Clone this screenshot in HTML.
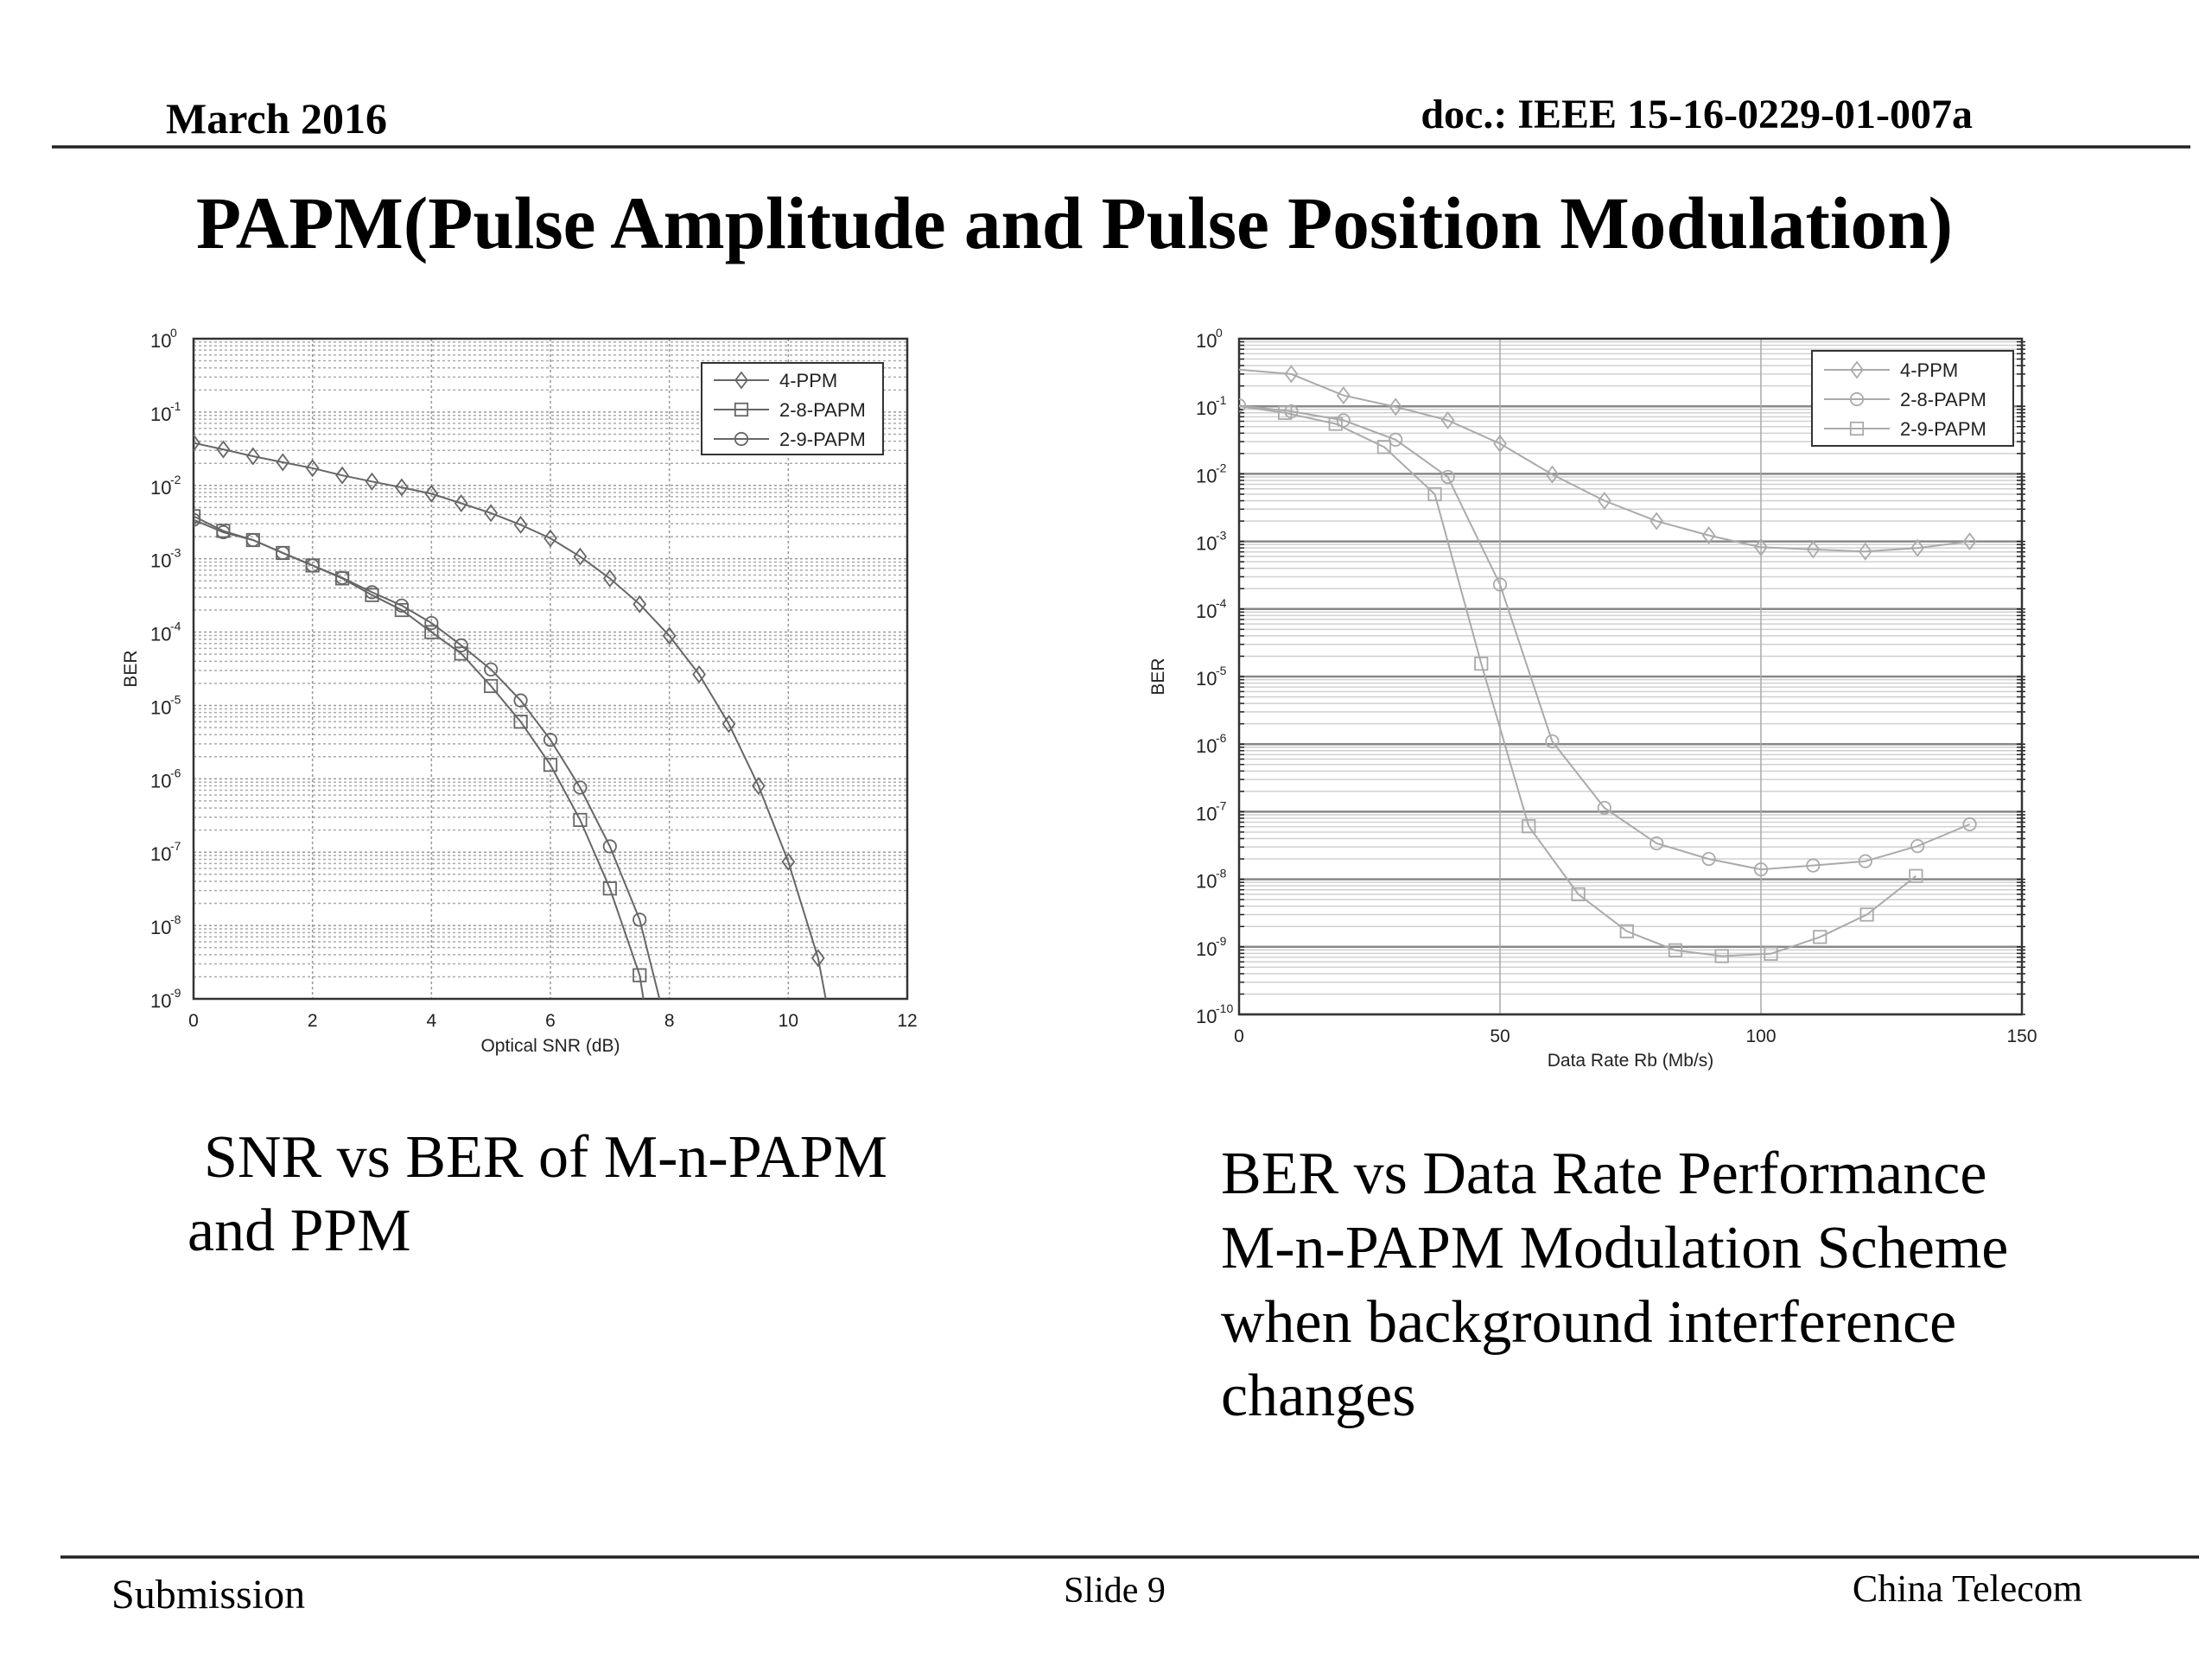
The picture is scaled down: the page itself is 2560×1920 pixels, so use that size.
<!DOCTYPE html>
<html><head><meta charset="utf-8"><style>
html,body{margin:0;padding:0;background:#fff;}
svg{display:block;}
.t{font-family:"Liberation Serif",serif;fill:#000;}
.s{font-family:"Liberation Sans",sans-serif;fill:#222;}
</style></head><body>
<svg id="page" width="2560" height="1920" viewBox="0 0 2560 1920" xmlns="http://www.w3.org/2000/svg">
<text class="t" x="192" y="154" font-size="50" font-weight="bold">March 2016</text>
<text class="t" x="2283" y="148" font-size="48" font-weight="bold" text-anchor="end">doc.: IEEE 15-16-0229-01-007a</text>
<line x1="60" y1="170" x2="2535" y2="170" stroke="#222" stroke-width="3.5"/>
<text class="t" x="227" y="287" font-size="86" font-weight="bold" textLength="2033" lengthAdjust="spacingAndGlyphs">PAPM(Pulse Amplitude and Pulse Position Modulation)</text>
<g id="chartL"></g>
<g id="chartR"></g>
<text class="t" font-size="70"><tspan x="236" y="1362">SNR vs BER of M-n-PAPM</tspan><tspan x="217" y="1447">and PPM</tspan></text>
<text class="t" font-size="70"><tspan x="1413" y="1381">BER vs Data Rate Performance</tspan><tspan x="1413" y="1467">M-n-PAPM Modulation Scheme</tspan><tspan x="1413" y="1553">when background interference</tspan><tspan x="1413" y="1638">changes</tspan></text>
<line x1="70" y1="1802" x2="2545" y2="1802" stroke="#222" stroke-width="3.5"/>
<text class="t" x="129" y="1861" font-size="48">Submission</text>
<text class="t" x="1290" y="1854" font-size="42" text-anchor="middle">Slide 9</text>
<text class="t" x="2410" y="1853" font-size="44" text-anchor="end">China Telecom</text>
</svg>
<script>
// ---- Left chart data (Optical SNR vs BER) ----
const snrX = [0,0.5,1,1.5,2,2.5,3,3.5,4,4.5,5,5.5,6,6.5,7,7.5,8,8.5,9,9.5,10,10.5,10.75];
const ppm4Snr = [0.038,0.031,0.025,0.0207,0.0172,0.0137,0.0113,0.0094,0.0077,0.0057,0.0042,0.0029,0.0019,0.00107,5.4e-4,2.4e-4,8.9e-5,2.65e-5,5.6e-6,8e-7,7.4e-8,3.6e-9,3e-10];
const papm28SnrX = [0,0.5,1,1.5,2,2.5,3,3.5,4,4.5,5,5.5,6,6.5,7,7.5,7.7];
const papm28Snr = [3.8e-3,2.4e-3,1.8e-3,1.2e-3,8.1e-4,5.4e-4,3.2e-4,2e-4,1e-4,5.1e-5,1.84e-5,6e-6,1.55e-6,2.75e-7,3.2e-8,2.1e-9,2e-10];
const papm29SnrX = [0,0.5,1,1.5,2,2.5,3,3.5,4,4.5,5,5.5,6,6.5,7,7.5,8.05];
const papm29Snr = [3.4e-3,2.3e-3,1.8e-3,1.2e-3,8.1e-4,5.5e-4,3.5e-4,2.3e-4,1.33e-4,6.6e-5,3.1e-5,1.17e-5,3.4e-6,7.6e-7,1.2e-7,1.2e-8,2e-10];
const snrTicks = ["0","2","4","6","8","10","12"];
const snrTickVals = [0,2,4,6,8,10,12];
const leftDecades = [0,-1,-2,-3,-4,-5,-6,-7,-8,-9];

// ---- Right chart data (Data rate vs BER) ----
const rateX4 = [0,10,20,30,40,50,60,70,80,90,100,110,120,130,140];
const ppm4Rate = [0.35,0.3,0.145,0.098,0.062,0.028,0.0098,0.004,0.002,0.00123,8.2e-4,7.6e-4,7.1e-4,8e-4,1e-3];
const rateX28 = [0,10,20,30,40,50,60,70,80,90,100,110,120,130,140];
const papm28Rate = [0.103,0.084,0.062,0.032,0.009,2.3e-4,1.1e-6,1.14e-7,3.4e-8,2e-8,1.4e-8,1.6e-8,1.85e-8,3.1e-8,6.5e-8];
const rateX29 = [0,8.8,18.5,27.8,37.5,46.4,55.5,65,74.3,83.6,92.5,101.9,111.3,120.3,129.7];
const papm29Rate = [0.1,0.08,0.055,0.025,0.005,1.55e-5,6.1e-8,6e-9,1.7e-9,8.9e-10,7.3e-10,7.9e-10,1.4e-9,3e-9,1.12e-8];
const rateTicks = ["0","50","100","150"];
const rateTickVals = [0,50,100,150];
const rightDecades = [0,-1,-2,-3,-4,-5,-6,-7,-8,-9,-10];

const NS = "http://www.w3.org/2000/svg";
function mk(parent, tag, attrs){
  const e = document.createElementNS(NS, tag);
  for (const k in attrs) e.setAttribute(k, attrs[k]);
  parent.appendChild(e);
  return e;
}
function marker(g, kind, x, y, r, color){
  let e;
  if (kind === "diamond") e = mk(g, "polygon", {points:`${x},${y-r} ${x+r*0.75},${y} ${x},${y+r} ${x-r*0.75},${y}`, fill:"none", stroke:color, "stroke-width":1.8});
  else if (kind === "square") e = mk(g, "rect", {x:x-r*0.8, y:y-r*0.8, width:r*1.6, height:r*1.6, fill:"none", stroke:color, "stroke-width":1.8});
  else e = mk(g, "circle", {cx:x, cy:y, r:r*0.8, fill:"none", stroke:color, "stroke-width":1.8});
  return e;
}
function drawChart(cfg){
  const g = document.getElementById(cfg.id);
  const L=cfg.left, R=cfg.right, T=cfg.top, B=cfg.bottom;
  const xs = v => L + (v - cfg.xmin)/(cfg.xmax - cfg.xmin)*(R-L);
  const ys = v => T + (cfg.ymaxExp - Math.log10(v))/(cfg.ymaxExp - cfg.yminExp)*(B-T);
  const clipId = cfg.id + "clip";
  const defs = mk(g, "defs", {});
  const cp = mk(defs, "clipPath", {id:clipId});
  mk(cp, "rect", {x:L, y:T, width:R-L, height:B-T});
  // grid
  const grid = mk(g, "g", {});
  
  
  for (let e = cfg.ymaxExp; e > cfg.yminExp; e--) {
    for (let m = 1; m < 10; m++) {
      const v = Math.pow(10, e-1) * m;
      const y = ys(v);
      if (m === 1) {
        mk(grid, "line", {x1:L, y1:y, x2:R, y2:y, stroke:cfg.majorGrid, "stroke-width":cfg.majorW, "stroke-dasharray":cfg.dash});
      } else {
        mk(grid, "line", {x1:L, y1:y, x2:R, y2:y, stroke:cfg.minorGrid, "stroke-width":1.5, "stroke-dasharray":cfg.dash});
      }
      if (cfg.rightTicks) {
        mk(grid, "line", {x1:R-6, y1:y, x2:R+4, y2:y, stroke:"#222", "stroke-width":1.5});
        mk(grid, "line", {x1:L, y1:y, x2:L+6, y2:y, stroke:"#222", "stroke-width":1.5});
      }
    }
  }
  cfg.xTickVals.forEach(v => {
    const x = xs(v);
    mk(grid, "line", {x1:x, y1:T, x2:x, y2:B, stroke:cfg.vGrid, "stroke-width":1.5, "stroke-dasharray":cfg.dash});
  });
  // axes box
  const box = mk(g, "rect", {x:L, y:T, width:R-L, height:B-T, fill:"none", stroke:"#333", "stroke-width":2.5});
  
  
  // tick labels
  cfg.xTickVals.forEach((v,i) => {
    const t = mk(g, "text", {x:xs(v), y:B+32, "font-size":21, "text-anchor":"middle", class:"s"});
    
    
    t.textContent = cfg.xTicks[i];
  });
  cfg.decades.forEach(d => {
    const y = ys(Math.pow(10, d));
    const t = mk(g, "text", {x:L-50, y:y+10, "font-size":22, class:"s"});
    
    
    t.textContent = "10";
    const sup = mk(g, "text", {x:L-27, y:y-2, "font-size":14, class:"s"});
    
    
    sup.textContent = String(d);
  });
  const xt = mk(g, "text", {x:(L+R)/2, y:cfg.xTitleY, "font-size":21, "text-anchor":"middle", class:"s"});
  
  
  xt.textContent = cfg.xTitle;
  const yt = mk(g, "text", {x:0, y:0, "font-size":21, "text-anchor":"middle", class:"s", transform:`translate(${cfg.yTitleX},${(T+B)/2}) rotate(-90)`});
  
  
  yt.textContent = "BER";
  // series
  const sg = mk(g, "g", {"clip-path":`url(#${clipId})`});
  cfg.series.forEach(s => {
    const sgg = mk(sg, "g", {});
    
    
    const pts = s.x.map((xv,i) => xs(xv).toFixed(1) + "," + ys(s.y[i]).toFixed(1)).join(" ");
    const pl = mk(sgg, "polyline", {points:pts, fill:"none", stroke:cfg.lineColor, "stroke-width":2});
    
    
    s.x.forEach((xv,i) => {
      if (s.noMarker && s.noMarker.includes(i)) return;
      const m = marker(sgg, s.kind, xs(xv), ys(s.y[i]), cfg.mr, cfg.lineColor);
      
      
    });
  });
  // legend
  const lg = mk(g, "g", {});
  
  
  const lb = cfg.legend;
  mk(lg, "rect", {x:lb.x, y:lb.y, width:lb.w, height:lb.h, fill:"#fff", stroke:"#333", "stroke-width":2});
  cfg.series.forEach((s,i) => {
    const ey = lb.y + lb.pad + i*lb.step;
    const ent = mk(lg, "g", {});
    
    
    mk(ent, "line", {x1:lb.x+14, y1:ey, x2:lb.x+lb.lineW, y2:ey, stroke:cfg.lineColor, "stroke-width":2});
    marker(ent, s.kind, lb.x+14+(lb.lineW-14)/2, ey, cfg.mr, cfg.lineColor);
    const t = mk(ent, "text", {x:lb.x+lb.lineW+12, y:ey+8, "font-size":22, class:"s"});
    t.textContent = s.name;
  });
}
drawChart({
  id:"chartL", left:224, right:1050, top:392, bottom:1156,
  xmin:0, xmax:12, ymaxExp:0, yminExp:-9,
  xTickVals:snrTickVals, xTicks:snrTicks, decades:leftDecades,
  xTitle:"Optical SNR (dB)", xTitleY:1217, yTitleX:158,
  majorGrid:"#999", minorGrid:"#aaa", majorW:1.5, vGrid:"#999", dash:"3,3", rightTicks:false,
  lineColor:"#666", mr:9,
  series:[
    {name:"4-PPM", kind:"diamond", x:snrX, y:ppm4Snr, noMarker:[22]},
    {name:"2-8-PAPM", kind:"square", x:papm28SnrX, y:papm28Snr, noMarker:[16]},
    {name:"2-9-PAPM", kind:"circle", x:papm29SnrX, y:papm29Snr, noMarker:[16]}
  ],
  legend:{x:812, y:420, w:210, h:106, pad:20, step:34, lineW:78}
});
drawChart({
  id:"chartR", left:1434, right:2340, top:392, bottom:1174,
  xmin:0, xmax:150, ymaxExp:0, yminExp:-10,
  xTickVals:rateTickVals, xTicks:rateTicks, decades:rightDecades,
  xTitle:"Data Rate Rb (Mb/s)", xTitleY:1234, yTitleX:1347,
  majorGrid:"#888", minorGrid:"#d0d0d0", majorW:2.5, vGrid:"#aaa", dash:"none", rightTicks:true,
  lineColor:"#aaa", mr:9,
  series:[
    {name:"4-PPM", kind:"diamond", x:rateX4, y:ppm4Rate, noMarker:[0]},
    {name:"2-8-PAPM", kind:"circle", x:rateX28, y:papm28Rate},
    {name:"2-9-PAPM", kind:"square", x:rateX29, y:papm29Rate, noMarker:[0]}
  ],
  legend:{x:2097, y:406, w:233, h:110, pad:22, step:34, lineW:90}
});
</script>
</body></html>
